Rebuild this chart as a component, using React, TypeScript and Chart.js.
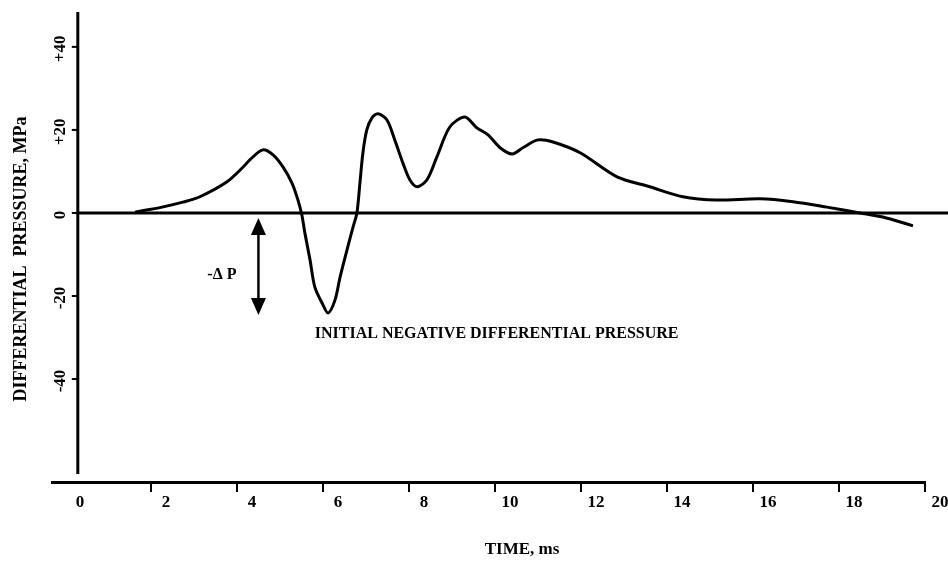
import React, { useEffect, useRef } from "react";
import { Chart, registerables } from "chart.js";

Chart.register(...registerables);

// ---- data ----
const TIME_MS = [
  1.63, 2.26, 2.74, 3.14, 3.77, 4.14, 4.3, 4.6, 4.84, 5.07, 5.28, 5.42, 5.51, 5.58, 5.7, 5.81,
  5.98, 6.12, 6.28, 6.4, 6.56, 6.7, 6.79, 6.86, 6.93, 7.02, 7.14, 7.28, 7.49, 7.67, 7.86, 8.02,
  8.19, 8.42, 8.65, 8.95, 9.3, 9.58, 9.84, 10.12, 10.4, 10.65, 11.0, 11.35, 11.98, 12.84, 13.6,
  14.37, 15.16, 16.16, 16.93, 17.72, 18.49, 19.1, 19.72,
];
const PRESSURE_MPA = [
  0.2, 1.4, 2.6, 3.9, 7.5, 11, 12.8, 15.2, 14.0, 11.1, 7.2, 3.1, -0.5, -4.8, -11.3, -17.8,
  -21.7, -24.1, -21.0, -15.4, -8.9, -3.4, 0, 7.2, 14.5, 20.0, 22.9, 23.9, 22.4, 17.6, 12.0, 8.0,
  6.3, 8.0, 13.5, 20.7, 23.1, 20.5, 18.8, 15.7, 14.2, 15.7, 17.6, 17.1, 14.5, 8.7, 6.3,
  3.9, 3.1, 3.4, 2.7, 1.4, 0, -1.2, -3.1,
];
const X_TICKS = [0, 2, 4, 6, 8, 10, 12, 14, 16, 18, 20];
const Y_TICKS = [40, 20, 0, -20, -40];
const Y_TICK_LABELS = ["+40", "+20", "0", "-20", "-40"];
const X_TITLE = "TIME, ms";
const Y_TITLE = "DIFFERENTIAL  PRESSURE, MPa";
const NOTE_TEXT = "INITIAL NEGATIVE DIFFERENTIAL PRESSURE";
const DELTA_TEXT = "-\u0394 P";
// annotation anchors in data units
const ARROW_X = 4.5;
const ARROW_TOP = -1.2;
const ARROW_BOTTOM = -24.6;
const DELTA_POS = [3.65, -15];
const NOTE_POS = [5.81, -29.2];
const Y_AXIS_AT = 0.3;

const FONT = '"Liberation Serif", "DejaVu Serif", serif';

const customAxes = {
  id: "customAxes",
  afterDraw(chart: any) {
    const { ctx, chartArea } = chart;
    const xs = chart.scales.x;
    const ys = chart.scales.y;
    const ax = xs.getPixelForValue(Y_AXIS_AT);
    const y0 = ys.getPixelForValue(0);
    ctx.save();
    ctx.strokeStyle = "#000";
    ctx.fillStyle = "#000";
    ctx.lineCap = "butt";

    // y axis line
    ctx.lineWidth = 3;
    ctx.beginPath();
    ctx.moveTo(ax, chartArea.top);
    ctx.lineTo(ax, chartArea.bottom - 8);
    ctx.stroke();

    // zero line
    ctx.lineWidth = 3;
    ctx.beginPath();
    ctx.moveTo(ax, y0);
    ctx.lineTo(chart.width, y0);
    ctx.stroke();

    // y ticks & labels
    ctx.lineWidth = 2;
    ctx.font = `bold 17px ${FONT}`;
    ctx.textAlign = "center";
    ctx.textBaseline = "middle";
    Y_TICKS.forEach((v, i) => {
      const py = ys.getPixelForValue(v);
      ctx.beginPath();
      ctx.moveTo(ax - 6, py);
      ctx.lineTo(ax, py);
      ctx.stroke();
      ctx.save();
      ctx.translate(ax - 17, py + 2);
      ctx.rotate(-Math.PI / 2);
      ctx.fillText(Y_TICK_LABELS[i], 0, 0);
      ctx.restore();
    });

    // y title
    ctx.save();
    ctx.font = `bold 18px ${FONT}`;
    ctx.translate(21, 259);
    ctx.rotate(-Math.PI / 2);
    ctx.fillText(Y_TITLE, 0, 0, 290);
    ctx.restore();

    // x title
    ctx.font = `bold 17px ${FONT}`;
    ctx.fillText(X_TITLE, 522, 550, 80);

    // double arrow
    const axp = xs.getPixelForValue(ARROW_X);
    const t = ys.getPixelForValue(ARROW_TOP);
    const b = ys.getPixelForValue(ARROW_BOTTOM);
    const hl = 17;
    const hw = 7.5;
    ctx.lineWidth = 2.5;
    ctx.beginPath();
    ctx.moveTo(axp, t + hl - 2);
    ctx.lineTo(axp, b - hl + 2);
    ctx.stroke();
    ctx.beginPath();
    ctx.moveTo(axp, t);
    ctx.lineTo(axp - hw, t + hl);
    ctx.lineTo(axp + hw, t + hl);
    ctx.closePath();
    ctx.fill();
    ctx.beginPath();
    ctx.moveTo(axp, b);
    ctx.lineTo(axp - hw, b - hl);
    ctx.lineTo(axp + hw, b - hl);
    ctx.closePath();
    ctx.fill();

    // texts
    ctx.font = `bold 16px ${FONT}`;
    ctx.textAlign = "center";
    ctx.fillText(DELTA_TEXT, xs.getPixelForValue(DELTA_POS[0]), ys.getPixelForValue(DELTA_POS[1]));
    ctx.textAlign = "left";
    ctx.fillText(NOTE_TEXT, xs.getPixelForValue(NOTE_POS[0]), ys.getPixelForValue(NOTE_POS[1]), 365);

    ctx.restore();
  },
};

export default function App() {
  const ref = useRef<HTMLCanvasElement>(null);
  useEffect(() => {
    if (!ref.current) return;
    const chart = new Chart(ref.current, {
      type: "line",
      data: {
        datasets: [
          {
            data: TIME_MS.map((t, i) => ({ x: t, y: PRESSURE_MPA[i] })),
            borderColor: "#000",
            borderWidth: 3,
            pointRadius: 0,
            tension: 0.3,
            fill: false,
          },
        ],
      },
      options: {
        responsive: false,
        animation: false,
        devicePixelRatio: 1,
        layout: { padding: { top: 12, right: 23, left: 0, bottom: 0 } },
        plugins: { legend: { display: false }, tooltip: { enabled: false }, title: { display: false } },
        scales: {
          x: {
            type: "linear",
            min: -0.3,
            max: 20,
            afterBuildTicks: (s: any) => {
              s.ticks = X_TICKS.map((v) => ({ value: v }));
            },
            afterFit: (s: any) => {
              s.height = 79;
            },
            border: { display: true, color: "#000", width: 3 },
            grid: {
              display: true,
              drawOnChartArea: false,
              drawTicks: true,
              tickLength: 10,
              lineWidth: 2,
              color: (c: any) => (c.tick && c.tick.value === 0 ? "rgba(0,0,0,0)" : "#000"),
            },
            ticks: {
              color: "#000",
              font: { family: FONT, size: 17, weight: "bold" },
              labelOffset: 15,
              padding: 0,
              maxRotation: 0,
              minRotation: 0,
              autoSkip: false,
              callback: (v: any) => String(v),
            },
          },
          y: {
            type: "linear",
            min: -64.8,
            max: 48.4,
            afterFit: (s: any) => {
              s.width = 52;
            },
            border: { display: false },
            grid: { display: false, drawTicks: false },
            ticks: { display: false },
          },
        },
      },
      plugins: [customAxes],
    });
    return () => chart.destroy();
  }, []);
  return (
    <div style={{ position: "fixed", left: 0, top: 0, width: 948, height: 561, background: "#fff" }}>
      <canvas ref={ref} width={948} height={561} style={{ display: "block" }} />
    </div>
  );
}
